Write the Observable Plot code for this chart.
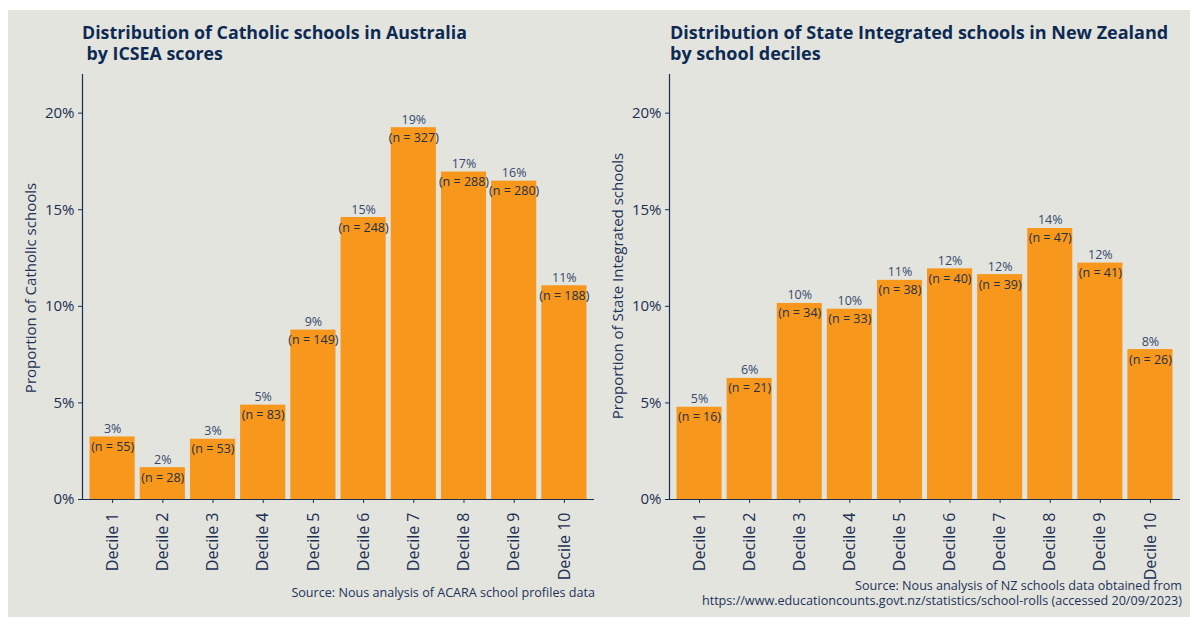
<!DOCTYPE html>
<html>
<head>
<meta charset="utf-8">
<script src="https://cdn.jsdelivr.net/npm/d3@7"></script>
<script src="https://cdn.jsdelivr.net/npm/@observablehq/plot@0.6"></script>
<style>
  html, body { margin: 0; padding: 0; background: #ffffff; }
  body { width: 1190px; height: 617px; position: relative; overflow: hidden; font-family: "Open Sans", sans-serif; }
  #bg { position: absolute; left: 8px; top: 10px; width: 1182px; height: 607px; background: #e4e4df; }
  .panel { position: absolute; top: 0; }
  .title { position: absolute; font-weight: 700; font-size: 18px; line-height: 21px; color: #0d2a52; white-space: pre; }
  .ylab { position: absolute; font-size: 15px; color: #1d3358; white-space: nowrap; transform: translate(-50%, -50%) rotate(-90deg); }
  .src { position: absolute; font-size: 12.6px; line-height: 15px; color: #1d3358; text-align: right; white-space: nowrap; }
</style>
</head>
<body>
<div id="bg"></div>
<div id="left" class="panel" style="left:0px"></div>
<div id="right" class="panel" style="left:600px"></div>
<div class="title" style="left:82px; top:22px; font-size:17.8px">Distribution of Catholic schools in Australia
 by ICSEA scores</div>
<div class="title" style="left:670px; top:22px">Distribution of State Integrated schools in New Zealand
by school deciles</div>
<div class="ylab" style="left:30px; top:288px">Proportion of Catholic schools</div>
<div class="ylab" style="left:617px; top:286px">Proportion of State Integrated schools</div>
<div class="src" style="left:0; width:595px; top:585px;">Source: Nous analysis of ACARA school profiles data</div>
<div class="src" style="left:0; width:1182px; top:578px;">Source: Nous analysis of NZ schools data obtained from</div>
<div class="src" style="left:0; width:1182px; top:593px;">https://www.educationcounts.govt.nz/statistics/school-rolls (accessed 20/09/2023)</div>
<script>
const deciles = ["Decile 1", "Decile 2", "Decile 3", "Decile 4", "Decile 5", "Decile 6", "Decile 7", "Decile 8", "Decile 9", "Decile 10"];
const auCounts = [55, 28, 53, 83, 149, 248, 327, 288, 280, 188];
const nzCounts = [16, 21, 34, 33, 38, 40, 39, 47, 41, 26];
const yTicks = [0, 0.05, 0.10, 0.15, 0.20];

const navy = "#1b2f52";
const barColor = "#f7981d";
const pct = d3.format(".0%");

function panel(counts, width, marginLeft, marginRight) {
  const total = d3.sum(counts);
  const data = deciles.map((d, i) => ({decile: d, n: counts[i], p: counts[i] / total}));
  return Plot.plot({
    width, height: 617,
    marginTop: 74, marginBottom: 118, marginLeft, marginRight,
    style: {background: "transparent", fontFamily: "Open Sans", color: navy, overflow: "visible"},
    x: {domain: deciles, paddingInner: 0.1, paddingOuter: 0.15, round: false, label: null},
    y: {domain: [0, 0.22], round: false, label: null},
    marks: [
      Plot.barY(data, {x: "decile", y: "p", fill: barColor}),
      Plot.frame({anchor: "left", stroke: navy, strokeWidth: 1.2}),
      Plot.ruleY([0], {stroke: navy, strokeWidth: 1.2}),
      Plot.axisY({ticks: yTicks, tickFormat: pct, tickSize: 4, tickPadding: 4, fontSize: 15, label: null, stroke: navy}),
      Plot.axisX({tickRotate: -90, tickSize: 4, tickPadding: 9, fontSize: 16, label: null, stroke: navy}),
      Plot.text(data, {x: "decile", y: "p", text: d => pct(d.p), dy: -8, fontSize: 12.5, fill: "#34496b"}),
      Plot.text(data, {x: "decile", y: "p", text: d => `(n = ${d.n})`, dy: 10, fontSize: 12.5, fill: "#23304a"})
    ]
  });
}

document.getElementById("left").append(panel(auCounts, 600, 82, 6));
document.getElementById("right").append(panel(nzCounts, 590, 69, 10));
</script>
</body>
</html>
